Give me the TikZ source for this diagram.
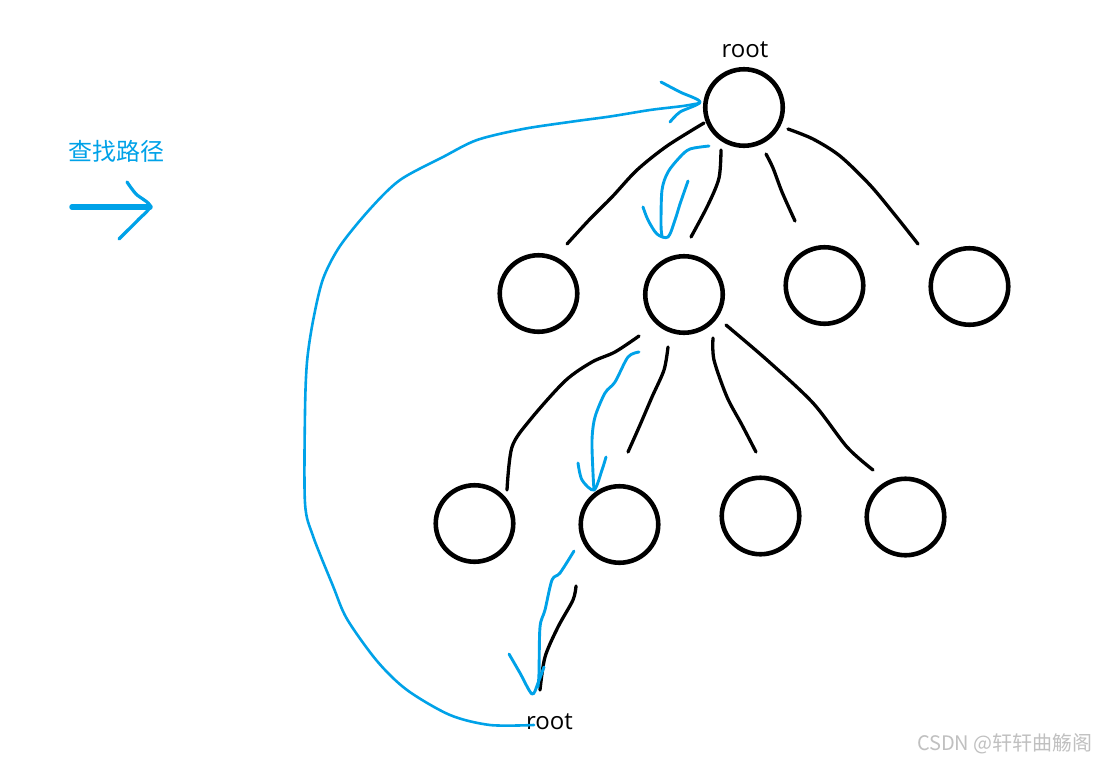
\documentclass[tikz,border=0pt]{standalone}
\usepackage{fontspec}
\setmainfont{Open Sans}
\newfontfamily\cjk{Noto Sans CJK SC}
\usetikzlibrary{shapes.geometric}
\definecolor{pblue}{HTML}{00A2E8}
\definecolor{wm}{HTML}{C0C0C0}
\begin{document}
\begin{tikzpicture}[x=1pt,y=-1pt,
  treenode/.style={ellipse, draw, line width=4.6pt, minimum width=77.5pt, minimum height=76.5pt, inner sep=0pt},
  blk/.style={line width=3.3pt, line cap=round, line join=round},
  blu/.style={pblue, line width=2.9pt, line cap=round, line join=round},
  lbl/.style={font=\fontsize{24}{28}\selectfont, anchor=base, inner sep=0pt}]
\path[use as bounding box, fill=white] (0,0) rectangle (1096,761);

% tree nodes
\node[treenode] (root) at (744,107.5) {};
\node[treenode] (a) at (538.5,293.5) {};
\node[treenode] (b) at (684,294.5) {};
\node[treenode] (c) at (824.5,285.5) {};
\node[treenode] (d) at (969.5,286.5) {};
\node[treenode] (e) at (474.5,523.5) {};
\node[treenode] (f) at (619.5,524.5) {};
\node[treenode] (g) at (760.5,516) {};
\node[treenode] (h) at (905.5,517) {};

% labels
\node[lbl] (rootlbl) at (745,57) {root};
\node[lbl] (rootlbl2) at (549.5,729) {root};
\node[font=\cjk\fontsize{24}{28}\selectfont, text=pblue, inner sep=0pt] (title) at (116,151) {查找路径};
\node[font=\cjk\fontsize{20}{24}\selectfont, text=wm, anchor=east, inner sep=0pt] (wmark) at (1093,744) {CSDN @轩轩曲觞阁};

% black hand-drawn edges
\draw[blk] plot[smooth, tension=0.5] coordinates {(704,123) (667,146) (637,170) (612,197) (590,219) (567,244)};
\draw[blk] plot[smooth] coordinates {(721,150) (719,178) (708,205) (691,237)};
\draw[blk] plot[smooth] coordinates {(766,154) (773,168) (782,192) (795,221)};
\draw[blk] plot[smooth] coordinates {(788,129) (813,139) (840,156) (870,185) (895,215) (918,244)};
\draw[blk] plot[smooth] coordinates {(639,336) (615,352) (592,362) (565,381) (530,420) (512,447) (507,490)};
\draw[blk] plot[smooth] coordinates {(668,347) (664,370) (652,397) (640,425) (628,452)};
\draw[blk] plot[smooth] coordinates {(713,338) (714,360) (727,397) (742,425) (756,452)};
\draw[blk] plot[smooth] coordinates {(726,325) (767,360) (813,403) (847,447) (873,470)};
\draw[blk] plot[smooth] coordinates {(576,586) (573,600) (558,627) (545,657) (540,690)};

% blue: left arrow
\draw[pblue, line width=5.5pt, line cap=round] (72,207) -- (150,207);
\draw[blu, line width=3.2pt] plot[smooth] coordinates {(127,182) (136,194) (150,206) (138,220) (128,230) (119,239)};

% blue: root -> b
\draw[blu] plot[smooth] coordinates {(709,146) (690,149) (680,157) (668,172) (662,190) (661,225) (662,236)};
\draw[blu] plot[smooth] coordinates {(643,207) (648,220) (657,234) (668,237) (675,220) (680,204) (688,181)};

% blue: b -> f
\draw[blu] plot[smooth] coordinates {(639,352) (628,357) (615,382) (605,393) (595,417) (592,440) (593,473) (594,490)};
\draw[blu] plot[smooth] coordinates {(578,463) (582,480) (594,490) (602,470) (606,457)};

% blue: f -> bottom root
\draw[blu] plot[smooth] coordinates {(574,551) (560,573) (552,580) (545,610) (540,627) (539,673) (538,687)};
\draw[blu] plot[smooth] coordinates {(509,654) (520,673) (532,694) (538,683) (544,667)};

% blue: big loop back to root
\draw[blu, line width=2.6pt] plot[smooth] coordinates {(534,725) (490,725) (450,715) (407,690) (377,661) (347,619) (333,586) (313,536) (305,503) (305,412) (307,362) (313,321) (323,279) (340,246) (370,209) (400,180) (443,157) (477,140) (523,129) (573,121.5) (610,116.5) (650,110) (683,106) (700,103)};
\draw[blu] plot[smooth] coordinates {(661,82) (680,92) (700,102) (680,112) (670,122)};
\end{tikzpicture}
\end{document}
